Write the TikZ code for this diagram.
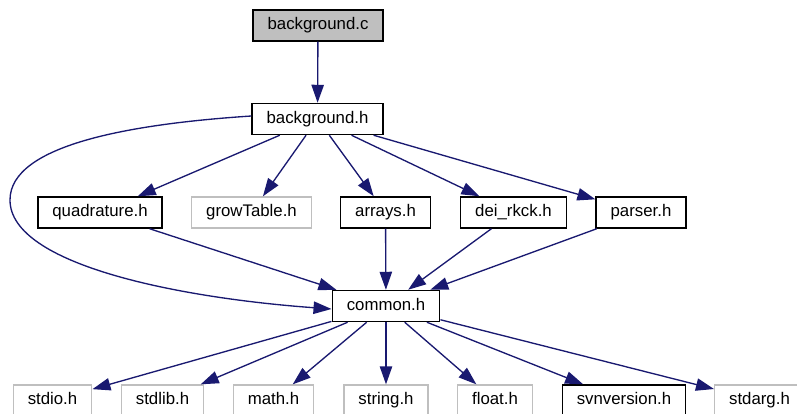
\documentclass[tikz,border=0pt]{standalone}
\usepackage{fontspec}
\setmainfont{Liberation Sans}
\usetikzlibrary{arrows.meta}

\definecolor{edgeblue}{RGB}{25,25,112}
\definecolor{boxgray}{RGB}{191,191,191}

\tikzset{every picture/.style={line width=0.75pt}}
\tikzset{
  file/.style={draw=black, line width=1.1pt, fill=white, inner xsep=10.9pt, inner ysep=0pt,
    minimum height=23.25pt, text height=9.3pt, text depth=2.7pt, font=\fontsize{12.6}{14}\selectfont},
  sysfile/.style={file, draw=boxgray, line width=1pt},
  srcfile/.style={file, fill=boxgray},
  dep/.style={draw=edgeblue, line width=1pt, -{Triangle[length=13.5pt,width=9.3pt]}}
}

\begin{document}
\begin{tikzpicture}[x=0.75pt,y=0.75pt,yscale=-1,xscale=1]
\useasboundingbox (0,0) rectangle (797,414);
\clip (0,0) rectangle (797,414);

% source and its header
\node [srcfile] (bgc) at (318,25.5) {background.c};
\node [file] (bgh) at (317.5,119) {background.h};

% second row
\node [file] (quad) at (100,212.5) {quadrature.h};
\node [sysfile] (grow) at (251.5,212.5) {growTable.h};
\node [file] (arr) at (385.5,212.5) {arrays.h};
\node [file] (rkck) at (513.5,212.5) {dei\_rkck.h};
\node [file] (pars) at (641,212.5) {parser.h};

% common header
\node [file] (comm) at (386,306) {common.h};

% system headers, cut by the bottom edge
\node [sysfile] (stdio) at (52.5,400.5) {stdio.h};
\node [sysfile] (stdlib) at (162.5,400.5) {stdlib.h};
\node [sysfile] (math) at (273.5,400.5) {math.h};
\node [sysfile] (string) at (386,400.5) {string.h};
\node [sysfile] (float) at (495,400.5) {float.h};
\node [file] (svn) at (624,400.5) {svnversion.h};
\node [sysfile] (stdarg) at (759.5,400.5) {stdarg.h};

% includes
\draw [dep] (bgc) -- (bgh);
\foreach \n in {quad,grow,arr,rkck,pars}
  \draw [dep] (bgh) -- (\n);
\draw [dep] ([yshift=-2.25pt]bgh.west) .. controls (130,124) and (10,145) .. (10,200)
  .. controls (10,265) and (180,298) .. ([yshift=2.25pt]comm.west);
\foreach \n in {quad,arr,rkck,pars}
  \draw [dep] (\n) -- (comm);
\foreach \n in {stdio,stdlib,math,string,float,svn,stdarg}
  \draw [dep] (comm) -- (\n);

\end{tikzpicture}
\end{document}
